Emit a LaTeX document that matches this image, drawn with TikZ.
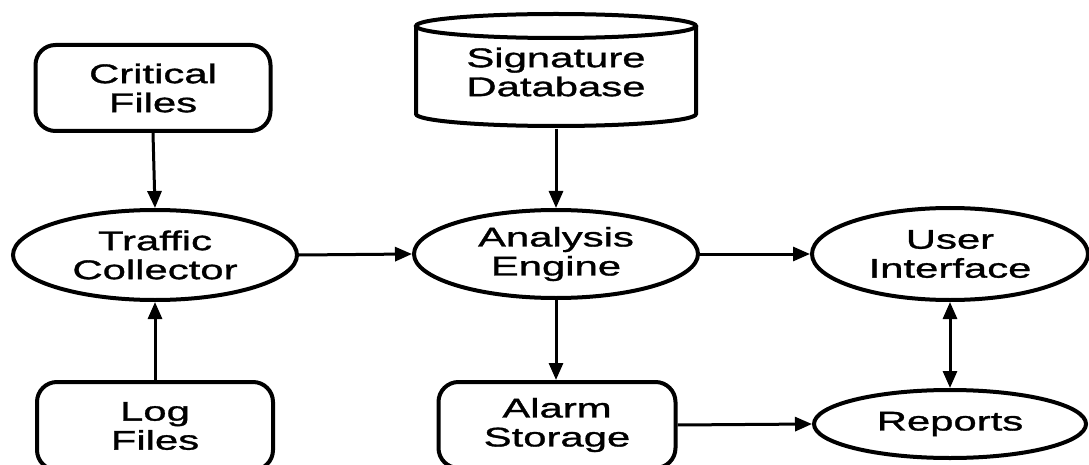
\documentclass[tikz,border=0pt]{standalone}
\usepackage{fontspec}
\newfontfamily\widesans[FakeStretch=1.55,FakeBold=1.2]{Liberation Sans}
\usetikzlibrary{arrows.meta,shapes.geometric}
\begin{document}
\begin{tikzpicture}[x=1pt,y=-1pt,
  txt/.style={font=\widesans\fontsize{27}{29}\selectfont, align=center, inner sep=0pt},
  rbox/.style={txt, draw, line width=4pt, rounded corners=20pt, rectangle},
  oval/.style={txt, draw, line width=4pt, ellipse},
  arr/.style={line width=3pt, -{Triangle[length=17pt,width=14pt]}},
  darr/.style={line width=3pt, {Triangle[length=17pt,width=14pt]}-{Triangle[length=17pt,width=14pt]}}]
\useasboundingbox (0,0) rectangle (1089,465);
\clip (0,0) rectangle (1089,465);
\fill[white] (0,0) rectangle (1089,465);

% nodes
\node[rbox, minimum width=235pt, minimum height=86pt] (crit) at (153,88) {Critical\\Files};
\node[rbox, minimum width=236pt, minimum height=88pt] (log) at (155,426) {Log\\Files};
\node[rbox, minimum width=237pt, minimum height=86pt] (alarm) at (557,425) {Alarm\\Storage};
\node[oval, minimum width=284pt, minimum height=90pt] (traffic) at (155,255) {Traffic\\Collector};
\node[oval, minimum width=284pt, minimum height=88pt] (analysis) at (556,254) {Analysis\\Engine};
\node[oval, minimum width=276pt, minimum height=92pt] (ui) at (950,254) {User\\Interface};
\node[oval, minimum width=272pt, minimum height=68pt] (reports) at (950,424) {Reports};

% cylinder
\node[txt, minimum width=281pt, minimum height=113pt] (sig) at (556,72) {Signature\\Database};
\draw[line width=4pt] (556,26) ellipse [x radius=140, y radius=12];
\draw[line width=4pt] (416,26) -- (416,114) arc[start angle=180, end angle=0, x radius=140, y radius=12] -- (696,26);

% connectors
\draw[arr] (crit.south) -- (traffic.north);
\draw[arr] (log.north) -- (traffic.south);
\draw[arr] (traffic.east) -- (analysis.west);
\draw[arr] (sig.south) -- (analysis.north);
\draw[arr] (analysis.east) -- (ui.west);
\draw[arr] (analysis.south) -- (analysis.south |- alarm.north);
\draw[arr] (alarm.east) -- (reports.west);
\draw[darr] (ui.south) -- (reports.north);
\end{tikzpicture}
\end{document}
